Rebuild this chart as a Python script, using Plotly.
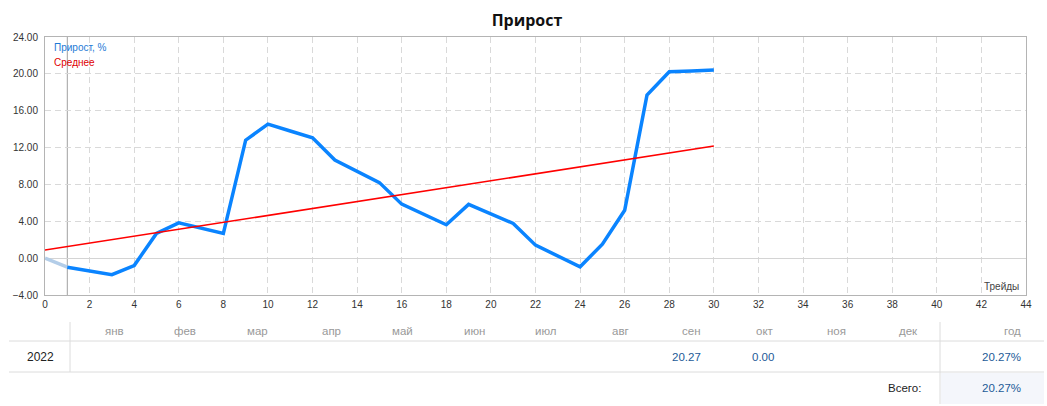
import plotly.graph_objects as go

# ---------------- data ----------------
trades = list(range(31))
growth = [0.0, -0.98, -1.4, -1.8, -0.8, 2.68, 3.83, 3.25, 2.68, 12.8, 14.55,
          13.8, 13.06, 10.64, 9.37, 8.2, 5.86, 4.72, 3.62, 5.83, 4.8,
          3.77, 1.41, 0.23, -0.94, 1.52, 5.2, 17.7, 20.23, 20.32, 20.41]
avg_x = [0, 30]
avg_y = [0.87, 12.16]

months = ['янв', 'фев', 'мар', 'апр', 'май', 'июн',
          'июл', 'авг', 'сен', 'окт', 'ноя', 'дек']
year_label = '2022'
month_values = ['', '', '', '', '', '', '', '', '20.27', '0.00', '', '']
year_header = 'год'
year_total = '20.27%'
total_label = 'Всего:'
grand_total = '20.27%'

title_text = 'Прирост'
legend_growth = 'Прирост, %'
legend_avg = 'Среднее'
x_title = 'Трейды'

# ---------------- layout geometry ----------------
W, H = 1047, 406
L, R, T, B = 45, 1026, 37, 295


def px(x):
    return (x - L) / (R - L)


def py(y):
    return (B - y) / (B - T)


fig = go.Figure()
fig.add_trace(go.Scatter(x=trades[:2], y=growth[:2], mode='lines',
                         line=dict(color='#b3cde8', width=3.5),
                         hoverinfo='skip', showlegend=False))
fig.add_trace(go.Scatter(x=trades[1:], y=growth[1:], mode='lines',
                         line=dict(color='#0a84ff', width=3.5),
                         showlegend=False))
fig.add_trace(go.Scatter(x=avg_x, y=avg_y, mode='lines',
                         line=dict(color='#ff0000', width=1.5),
                         showlegend=False))

font_main = 'Liberation Sans, Arial, sans-serif'

fig.update_layout(
    width=W, height=H,
    margin=dict(l=L, r=W - R, t=T, b=H - B, pad=0),
    paper_bgcolor='white', plot_bgcolor='white',
    font=dict(family=font_main, size=10, color='#333333'),
    title=dict(text='<b>' + title_text + '</b>', x=527 / W, y=1 - 20 / H,
               xanchor='center', yanchor='middle', xref='container', yref='container',
               font=dict(family='Open Sans, sans-serif', size=16, color='#111111')),
    xaxis=dict(range=[0, 44], dtick=2, tick0=0, showgrid=True,
               gridcolor='#d9d9d9', griddash='6px,4px', gridwidth=1,
               zeroline=False, showline=True, mirror=True,
               linecolor='#b4b4b4', linewidth=1, ticks='',
               tickfont=dict(size=10, color='#333333')),
    yaxis=dict(range=[-4, 24], dtick=4, tick0=0, tickformat='.2f',
               showgrid=True, gridcolor='#d9d9d9', griddash='6px,4px', gridwidth=1,
               zeroline=True, zerolinecolor='#d4d4d4', zerolinewidth=1,
               showline=True, mirror=True, linecolor='#b4b4b4', linewidth=1,
               ticks='', ticklabelstandoff=4,
               tickfont=dict(size=10, color='#333333')),
)

shapes = []
# vertical marker line at first trade
shapes.append(dict(type='line', xref='x', yref='paper', x0=1, x1=1, y0=0, y1=1,
                   line=dict(color='#a0a0a0', width=1), layer='below'))

# table lines
line_c = '#dcdcdc'
shapes.append(dict(type='line', xref='paper', yref='paper', x0=px(9), x1=px(1044),
                   y0=py(341), y1=py(341), line=dict(color=line_c, width=1)))
shapes.append(dict(type='line', xref='paper', yref='paper', x0=px(9), x1=px(1044),
                   y0=py(372), y1=py(372), line=dict(color=line_c, width=1)))
shapes.append(dict(type='rect', xref='paper', yref='paper', x0=px(941), x1=px(1044),
                   y0=py(373), y1=py(404), fillcolor='#f4f6fb', line=dict(width=0),
                   layer='below'))
shapes.append(dict(type='line', xref='paper', yref='paper', x0=px(70), x1=px(70),
                   y0=py(322), y1=py(372), line=dict(color=line_c, width=1)))
shapes.append(dict(type='line', xref='paper', yref='paper', x0=px(940), x1=px(940),
                   y0=py(322), y1=py(404), line=dict(color=line_c, width=1)))
fig.update_layout(shapes=shapes)

ann = []
# legend labels
ann.append(dict(text=legend_growth, xref='paper', yref='paper', x=px(52), y=py(48),
                xanchor='left', yanchor='middle', showarrow=False,
                font=dict(size=10, color='#1e7ad6')))
ann.append(dict(text=legend_avg, xref='paper', yref='paper', x=px(52), y=py(63),
                xanchor='left', yanchor='middle', showarrow=False,
                font=dict(size=10, color='#e00000')))
ann.append(dict(text=x_title, xref='paper', yref='paper', x=px(1021), y=py(286),
                xanchor='right', yanchor='middle', showarrow=False,
                font=dict(size=10, color='#444444')))

# table header
col_right = [126 + 72.18 * i for i in range(12)]
for i, m in enumerate(months):
    ann.append(dict(text=m, xref='paper', yref='paper', x=px(col_right[i]), y=py(331),
                    xanchor='right', yanchor='middle', showarrow=False,
                    font=dict(size=11.5, color='#999999')))
    if month_values[i]:
        ann.append(dict(text=month_values[i], xref='paper', yref='paper',
                        x=px(col_right[i]), y=py(357), xanchor='right',
                        yanchor='middle', showarrow=False,
                        font=dict(size=11.5, color='#1d5b98')))
ann.append(dict(text=year_header, xref='paper', yref='paper', x=px(1023), y=py(331),
                xanchor='right', yanchor='middle', showarrow=False,
                font=dict(size=11.5, color='#999999')))
ann.append(dict(text=year_label, xref='paper', yref='paper', x=px(40), y=py(357),
                xanchor='center', yanchor='middle', showarrow=False,
                font=dict(size=12, color='#222222')))
ann.append(dict(text=year_total, xref='paper', yref='paper', x=px(1023), y=py(357),
                xanchor='right', yanchor='middle', showarrow=False,
                font=dict(size=11.5, color='#1d5b98')))
ann.append(dict(text=total_label, xref='paper', yref='paper', x=px(923), y=py(388),
                xanchor='right', yanchor='middle', showarrow=False,
                font=dict(size=11.5, color='#222222')))
ann.append(dict(text=grand_total, xref='paper', yref='paper', x=px(1023), y=py(388),
                xanchor='right', yanchor='middle', showarrow=False,
                font=dict(size=11.5, color='#1d5b98')))
fig.update_layout(annotations=ann)

fig.write_html('out.html')
